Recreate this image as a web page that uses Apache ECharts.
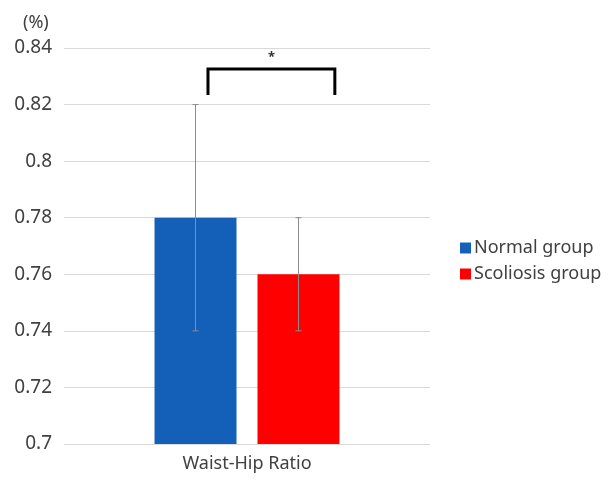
<!DOCTYPE html>
<html><head><meta charset="utf-8">
<script src="https://cdn.jsdelivr.net/npm/echarts@6/dist/echarts.min.js"></script>
<style>html,body{margin:0;padding:0;background:#fff}#c{width:615px;height:480px}</style>
</head><body><div id="c"></div>
<script>
const categories = ['Waist-Hip Ratio'];
const seriesNames = ['Normal group', 'Scoliosis group'];
const normalValues = [0.78];
const scoliosisValues = [0.76];
const normalSD = [0.04];
const scoliosisSD = [0.02];
const bracketLow = 0.8234, bracketHigh = 0.8326, starLevel = 0.8368;
const sigLabel = '*';

const FONT = 'Noto Sans';
const BAR_W = 0.224, BAR_GAP = 0.256;
const chart = echarts.init(document.getElementById('c'));

function barOffset(band, i) {
  const bw = band * BAR_W, gap = bw * BAR_GAP;
  return (i === 0 ? -1 : 1) * (bw + gap) / 2;
}
function errSeries(vals, sds, i) {
  return {
    type: 'custom', silent: true, z: 5,
    data: vals.map((v, k) => [k, v - sds[k], v + sds[k]]),
    renderItem: function (params, api) {
      const band = api.size([1, 0])[0];
      const lo = api.coord([api.value(0), api.value(1)]);
      const hi = api.coord([api.value(0), api.value(2)]);
      const x = lo[0] + barOffset(band, i);
      const st = { stroke: '#8c8c8c', lineWidth: 1 };
      return { type: 'group', children: [
        { type: 'line', shape: { x1: x, y1: lo[1], x2: x, y2: hi[1] }, style: st },
        { type: 'line', shape: { x1: x - 3, y1: hi[1], x2: x + 3, y2: hi[1] }, style: st },
        { type: 'line', shape: { x1: x - 3, y1: lo[1], x2: x + 3, y2: lo[1] }, style: st }
      ]};
    }
  };
}

chart.setOption({
  animation: false,
  title: { text: '(%)', left: 18, top: 9, textStyle: { fontFamily: FONT, fontSize: 18, fontWeight: 'normal', color: '#404040' } },
  legend: {
    orient: 'vertical', left: 455, top: 234, itemWidth: 11, itemHeight: 11, itemGap: 8,
    icon: 'rect', data: seriesNames,
    textStyle: { fontFamily: FONT, fontSize: 18, color: '#404040', padding: [0, 0, 0, -2] }
  },
  grid: { left: 64, right: 185, top: 48, bottom: 36 },
  xAxis: {
    type: 'category', data: categories,
    axisLine: { show: false }, axisTick: { show: false },
    axisLabel: { fontFamily: FONT, fontSize: 18, color: '#404040', margin: 11 }
  },
  yAxis: {
    type: 'value', min: 0.7, max: 0.84, interval: 0.02,
    axisLine: { show: false }, axisTick: { show: false },
    axisLabel: { fontFamily: FONT, fontSize: 19, color: '#404040', margin: 12 },
    splitLine: { lineStyle: { color: '#d9d9d9', width: 1 } }
  },
  series: [
    { name: seriesNames[0], type: 'bar', data: normalValues, barWidth: (BAR_W * 100) + '%', barGap: (BAR_GAP * 100) + '%', itemStyle: { color: '#1460B8' } },
    { name: seriesNames[1], type: 'bar', data: scoliosisValues, barWidth: (BAR_W * 100) + '%', itemStyle: { color: '#FF0000' } },
    errSeries(normalValues, normalSD, 0),
    errSeries(scoliosisValues, scoliosisSD, 1),
    {
      type: 'custom', silent: true, z: 6,
      data: [[0, bracketLow, bracketHigh, starLevel]],
      renderItem: function (params, api) {
        const band = api.size([1, 0])[0];
        const lo = api.coord([api.value(0), api.value(1)]);
        const hi = api.coord([api.value(0), api.value(2)]);
        const st = api.coord([api.value(0), api.value(3)]);
        const xl = lo[0] - 0.1066 * band, xr = lo[0] + 0.240 * band;
        return { type: 'group', children: [
          { type: 'polyline', shape: { points: [[xl, lo[1]], [xl, hi[1]], [xr, hi[1]], [xr, lo[1]]] }, style: { stroke: '#000', lineWidth: 3, fill: null } },
          { type: 'text', x: (xl + xr) / 2, y: st[1], style: { text: sigLabel, fontFamily: FONT, fontSize: 13, fontWeight: 'bold', fill: '#333', align: 'center', verticalAlign: 'middle' } }
        ]};
      }
    }
  ]
});
</script></body></html>
